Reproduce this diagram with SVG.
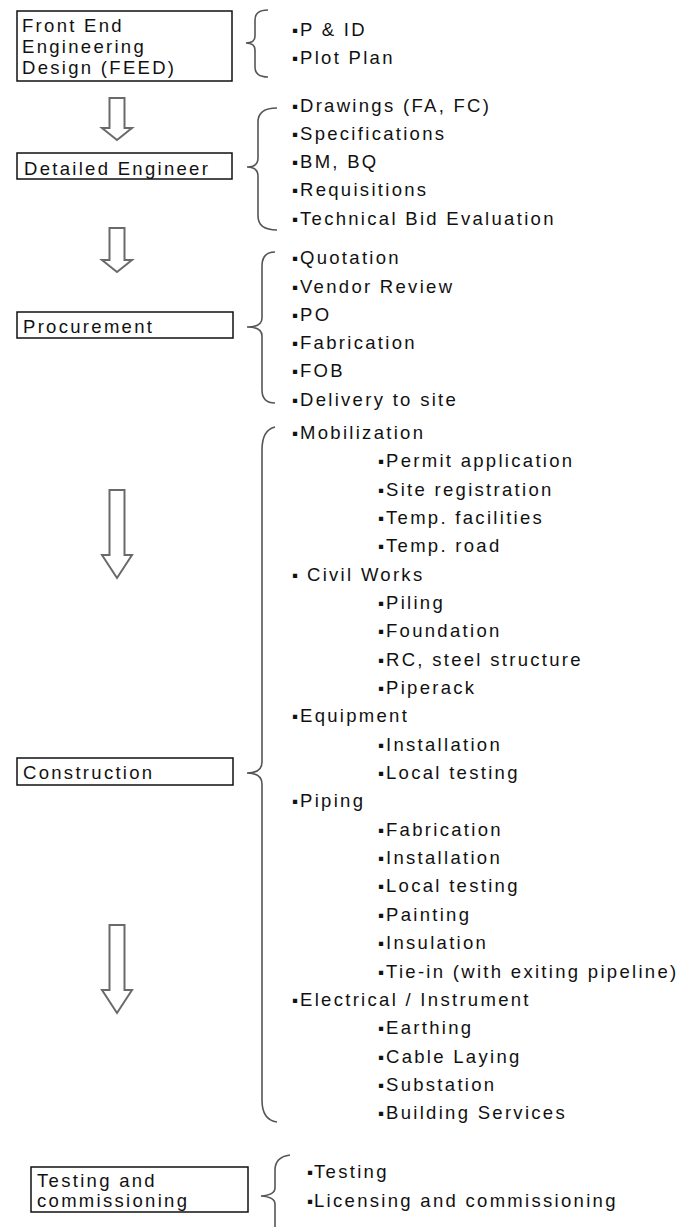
<svg xmlns="http://www.w3.org/2000/svg" width="689" height="1227" viewBox="0 0 689 1227">
<style>
text{font-family:"Liberation Sans",Arial,sans-serif;font-size:18.5px;letter-spacing:2.3px;fill:#111}
.b{font-size:17px;letter-spacing:0}
.box{fill:#fff;stroke:#111;stroke-width:1.5}
.arrow{fill:#fff;stroke:#6a6a6a;stroke-width:2;stroke-linejoin:miter}
.brace{fill:none;stroke:#555;stroke-width:1.6}
</style>
<rect width="689" height="1227" fill="#fff"/>

<g id="connectors">
  <polygon class="arrow" points="109.5,98 124.5,98 124.5,128 132,128 117,140 102,128 109.5,128"/>
  <polygon class="arrow" points="109.5,228 124.5,228 124.5,260 132,260 117,272 102,260 109.5,260"/>
  <polygon class="arrow" points="109.5,490 124.5,490 124.5,555 132,555 117,578 102,555 109.5,555"/>
  <polygon class="arrow" points="109.5,925 124.5,925 124.5,990 132,990 117,1013 102,990 109.5,990"/>
  <path class="brace" d="M268,10 Q255,10 255,20 L255,36 Q255,43 246,43 Q255,43 255,50 L255,67 Q255,77 268,77"/>
  <path class="brace" d="M277,108 Q258,108 258,122 L258,158 Q258,167 247,167 Q258,167 258,176 L258,216 Q258,230 277,230"/>
  <path class="brace" d="M275,252 Q262,252 262,266 L262,318 Q262,327 247,327 Q262,327 262,336 L262,390 Q262,403 275,403"/>
  <path class="brace" d="M275,427 Q262,430 262,450 L262,762 Q262,773 247,773 Q262,773 262,784 L262,1100 Q262,1120 277,1122"/>
  <path class="brace" d="M290,1155 Q275,1157 275,1170 L275,1188 Q275,1195 261,1196 Q275,1197 275,1204 L275,1235"/>
</g>

<g id="feed">
  <rect class="box" x="17" y="11" width="215" height="70"/>
  <text x="22" y="32">Front End</text>
  <text x="22" y="53">Engineering</text>
  <text x="22" y="74">Design (FEED)</text>
</g>
<g id="feed-items">
  <text x="292" y="36"><tspan class="b">▪</tspan><tspan x="300">P &amp; ID</tspan></text>
  <text x="292" y="64"><tspan class="b">▪</tspan><tspan x="300">Plot Plan</tspan></text>
</g>

<g id="detailed">
  <rect class="box" x="17" y="153" width="215" height="26"/>
  <text x="24" y="175">Detailed Engineer</text>
</g>
<g id="detailed-items">
  <text x="292" y="112"><tspan class="b">▪</tspan><tspan x="300">Drawings (FA, FC)</tspan></text>
  <text x="292" y="140"><tspan class="b">▪</tspan><tspan x="300">Specifications</tspan></text>
  <text x="292" y="168"><tspan class="b">▪</tspan><tspan x="300">BM, BQ</tspan></text>
  <text x="292" y="196"><tspan class="b">▪</tspan><tspan x="300">Requisitions</tspan></text>
  <text x="292" y="225"><tspan class="b">▪</tspan><tspan x="300">Technical Bid Evaluation</tspan></text>
</g>

<g id="procurement">
  <rect class="box" x="17" y="312" width="216" height="26"/>
  <text x="23" y="333">Procurement</text>
</g>
<g id="procurement-items">
  <text x="292" y="264"><tspan class="b">▪</tspan><tspan x="300">Quotation</tspan></text>
  <text x="292" y="293"><tspan class="b">▪</tspan><tspan x="300">Vendor Review</tspan></text>
  <text x="292" y="321"><tspan class="b">▪</tspan><tspan x="300">PO</tspan></text>
  <text x="292" y="349"><tspan class="b">▪</tspan><tspan x="300">Fabrication</tspan></text>
  <text x="292" y="377"><tspan class="b">▪</tspan><tspan x="300">FOB</tspan></text>
  <text x="292" y="406"><tspan class="b">▪</tspan><tspan x="300">Delivery to site</tspan></text>
</g>

<g id="construction">
  <rect class="box" x="17" y="758" width="216" height="27"/>
  <text x="23" y="779">Construction</text>
</g>
<g id="construction-items">
  <text x="292" y="439"><tspan class="b">▪</tspan><tspan x="300">Mobilization</tspan></text>
  <text x="378" y="467"><tspan class="b">▪</tspan><tspan x="386">Permit application</tspan></text>
  <text x="378" y="496"><tspan class="b">▪</tspan><tspan x="386">Site registration</tspan></text>
  <text x="378" y="524"><tspan class="b">▪</tspan><tspan x="386">Temp. facilities</tspan></text>
  <text x="378" y="552"><tspan class="b">▪</tspan><tspan x="386">Temp. road</tspan></text>
  <text x="292" y="581"><tspan class="b">▪</tspan><tspan x="307">Civil Works</tspan></text>
  <text x="378" y="609"><tspan class="b">▪</tspan><tspan x="386">Piling</tspan></text>
  <text x="378" y="637"><tspan class="b">▪</tspan><tspan x="386">Foundation</tspan></text>
  <text x="378" y="666"><tspan class="b">▪</tspan><tspan x="386">RC, steel structure</tspan></text>
  <text x="378" y="694"><tspan class="b">▪</tspan><tspan x="386">Piperack</tspan></text>
  <text x="292" y="722"><tspan class="b">▪</tspan><tspan x="300">Equipment</tspan></text>
  <text x="378" y="751"><tspan class="b">▪</tspan><tspan x="386">Installation</tspan></text>
  <text x="378" y="779"><tspan class="b">▪</tspan><tspan x="386">Local testing</tspan></text>
  <text x="292" y="807"><tspan class="b">▪</tspan><tspan x="300">Piping</tspan></text>
  <text x="378" y="836"><tspan class="b">▪</tspan><tspan x="386">Fabrication</tspan></text>
  <text x="378" y="864"><tspan class="b">▪</tspan><tspan x="386">Installation</tspan></text>
  <text x="378" y="892"><tspan class="b">▪</tspan><tspan x="386">Local testing</tspan></text>
  <text x="378" y="921"><tspan class="b">▪</tspan><tspan x="386">Painting</tspan></text>
  <text x="378" y="949"><tspan class="b">▪</tspan><tspan x="386">Insulation</tspan></text>
  <text x="378" y="978"><tspan class="b">▪</tspan><tspan x="386">Tie-in (with exiting pipeline)</tspan></text>
  <text x="292" y="1006"><tspan class="b">▪</tspan><tspan x="300">Electrical / Instrument</tspan></text>
  <text x="378" y="1034"><tspan class="b">▪</tspan><tspan x="386">Earthing</tspan></text>
  <text x="378" y="1063"><tspan class="b">▪</tspan><tspan x="386">Cable Laying</tspan></text>
  <text x="378" y="1091"><tspan class="b">▪</tspan><tspan x="386">Substation</tspan></text>
  <text x="378" y="1119"><tspan class="b">▪</tspan><tspan x="386">Building Services</tspan></text>
</g>

<g id="testing">
  <rect class="box" x="31" y="1167" width="217" height="45"/>
  <text x="37" y="1187">Testing and</text>
  <text x="37" y="1207">commissioning</text>
</g>
<g id="testing-items">
  <text x="307" y="1178"><tspan class="b">▪</tspan><tspan x="314">Testing</tspan></text>
  <text x="307" y="1207"><tspan class="b">▪</tspan><tspan x="314">Licensing and commissioning</tspan></text>
</g>
</svg>
